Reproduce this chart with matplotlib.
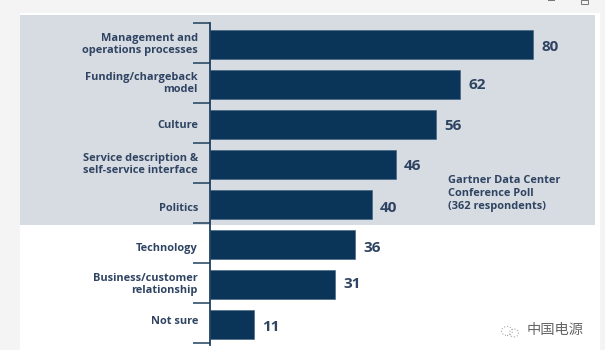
#!/usr/bin/env python3

import matplotlib
matplotlib.use('Agg')
import matplotlib.pyplot as plt
from matplotlib.patches import Rectangle, Ellipse

labels = ['Management and\noperations processes', 'Funding/chargeback\nmodel', 'Culture',
          'Service description &\nself-service interface', 'Politics', 'Technology',
          'Business/customer\nrelationship', 'Not sure']
values = [80, 62, 56, 46, 40, 36, 31, 11]
note = 'Gartner Data Center\nConference Poll\n(362 respondents)'
watermark = '中国电源'

# nudges in pixels (down is positive), the text is not quite centred on the bars in the original
label_nudge = [0.5, -1.2, 1.1, 0.4, 3.7, 3.5, -0.2, -2.9]
value_nudge = [3.0, 1.0, 1.5, 2.0, 3.0, 3.0, -0.5, 2.0]

W, H = 605, 350
NAVY = '#0a3558'
TEXT = '#2f4462'
PX = 0.72

plt.rcParams['font.family'] = ['Open Sans', 'Noto Sans CJK SC', 'DejaVu Sans']
fig = plt.figure(figsize=(W / 100, H / 100), dpi=100, facecolor='#f4f4f4')


def add_box(x0, y0, x1, y1, color):
    # box given in picture pixels, y going down
    fig.add_artist(Rectangle((x0 / W, 1 - y1 / H), (x1 - x0) / W, (y1 - y0) / H,
                             transform=fig.transFigure, facecolor=color, edgecolor='none'))


add_box(20, 13, 600, 350, 'white')
add_box(20, 15, 595, 225, '#d7dbe2')

# window control marks at the top edge of the screenshot
fig.add_artist(Rectangle((581 / W, 1 - 4 / H), 7 / W, 4 / H, transform=fig.transFigure,
                         facecolor='none', edgecolor='#777777', linewidth=0.7))
add_box(548, 0, 555, 1, '#777777')

ax = fig.add_axes([210 / W, 1 - 345 / H, (598 - 210) / W, (345 - 23) / H])
ax.set_zorder(5)
ax.patch.set_alpha(0)
ax.set_xlim(0, (598 - 210) / 4.04)
ax.set_ylim(7.508, -0.532)

ypos = list(range(len(values)))
ax.barh(ypos, values, height=0.71, color=NAVY, edgecolor='#3d5f7e', linewidth=0.4)

for side in ['top', 'right', 'bottom']:
    ax.spines[side].set_visible(False)
ax.spines['left'].set_color('#1f3f5e')
ax.spines['left'].set_linewidth(1.3)
ax.set_xticks([])
ax.set_yticks([i - 0.53 for i in range(len(values) + 1)])
ax.set_yticklabels([])
ax.tick_params(axis='y', length=17 * PX, width=1.1, color='#1f3f5e')

for i, (lab, val) in enumerate(zip(labels, values)):
    ax.annotate(lab, (0, i), xytext=(-12 * PX, -label_nudge[i] * PX), textcoords='offset points',
                ha='right', va='center', fontsize=7.9, fontweight='bold', color=TEXT,
                linespacing=1.15)
    ax.annotate(str(val), (val, i), xytext=(8 * PX, -value_nudge[i] * PX), textcoords='offset points',
                ha='left', va='center', fontsize=11, fontweight='bold', color=TEXT)

fig.text(448 / W, 1 - 193.5 / H, note, ha='left', va='center', fontsize=7.9, fontweight='bold',
         color=TEXT, linespacing=1.25)

fig.text(527 / W, 1 - 330.5 / H, watermark, ha='left', va='center', fontsize=10.3, color='#666666')
fig.add_artist(Ellipse((507 / W, 1 - 331 / H), 11 / W, 9 / H, transform=fig.transFigure,
                       facecolor='none', edgecolor='#aaaaaa', linewidth=0.8, linestyle=':'))
fig.add_artist(Ellipse((514 / W, 1 - 333 / H), 9 / W, 8 / H, transform=fig.transFigure,
                       facecolor='none', edgecolor='#aaaaaa', linewidth=0.8, linestyle=':'))

plt.savefig('out.png', dpi=100, facecolor=fig.get_facecolor())
